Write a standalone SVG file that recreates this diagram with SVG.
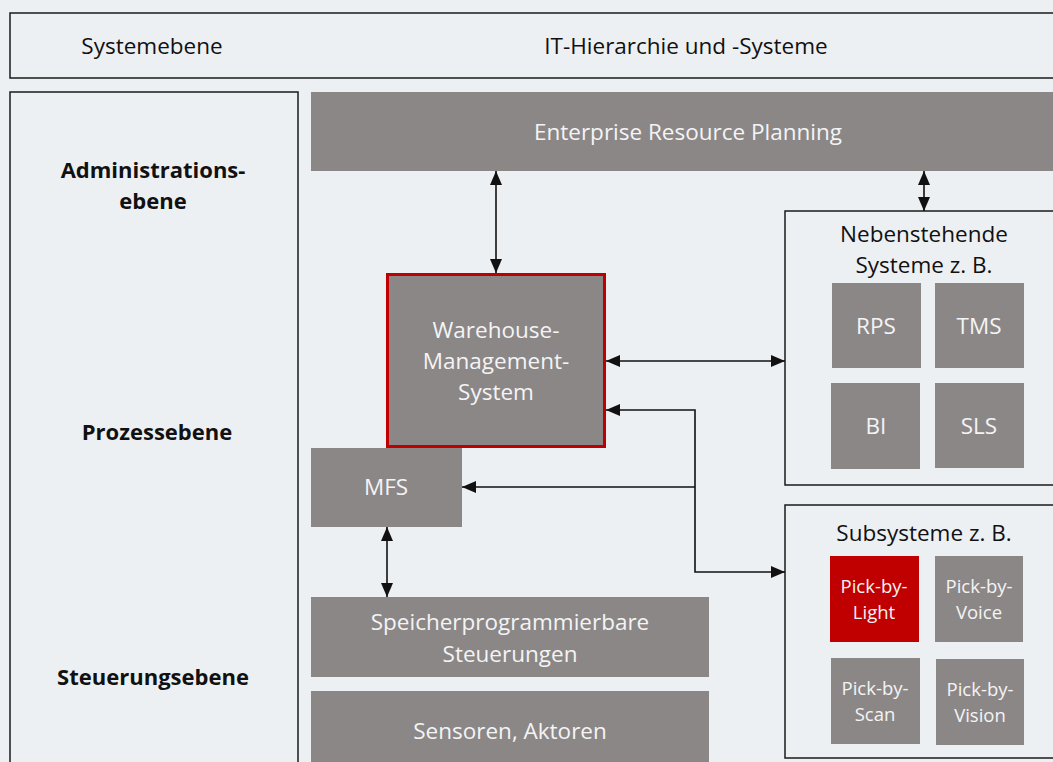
<svg xmlns="http://www.w3.org/2000/svg" width="1053" height="762" viewBox="0 0 1053 762">
<defs>
<style>
.bg{fill:#edf0f3}
.frame{fill:#edf0f3;stroke:#1a1a1a;stroke-width:1.5}
.box{fill:#8b8787}
.red{fill:#c00000}
.wt{font-family:"Open Sans","Noto Sans",sans-serif;font-size:22.5px;fill:#f4f4f4;text-anchor:middle}
.st{font-size:18.5px}
.bt{font-family:"Open Sans","Noto Sans",sans-serif;font-size:22.5px;fill:#111;text-anchor:middle}
.lb{font-family:"Open Sans","Noto Sans",sans-serif;font-size:22px;font-weight:bold;fill:#111;text-anchor:middle}
.con{fill:none;stroke:#111;stroke-width:1.6}
</style>
<marker id="ah" viewBox="0 0 14 12" refX="14" refY="6" markerWidth="14" markerHeight="12" markerUnits="userSpaceOnUse" orient="auto-start-reverse">
<path d="M0,0 L14,6 L0,12 Z" fill="#111"/>
</marker>
</defs>
<rect class="bg" x="0" y="0" width="1053" height="762"/>
<g id="header">
<rect class="frame" x="10" y="13" width="1050" height="65"/>
<text class="bt" x="152" y="54">Systemebene</text>
<text class="bt" x="686" y="54">IT-Hierarchie und -Systeme</text>
</g>
<g id="levels">
<rect class="frame" x="10" y="92" width="288" height="680"/>
<text class="lb" x="153" y="178">Administrations-</text>
<text class="lb" x="153" y="209">ebene</text>
<text class="lb" x="157" y="440">Prozessebene</text>
<text class="lb" x="153" y="685">Steuerungsebene</text>
</g>
<g id="erp">
<rect class="box" x="311" y="92" width="750" height="79"/>
<text class="wt" x="688" y="140">Enterprise Resource Planning</text>
</g>
<g id="wms">
<rect class="box" x="387.5" y="274.5" width="217" height="172" stroke="#c00000" stroke-width="3"/>
<text class="wt" x="496" y="338">Warehouse-</text>
<text class="wt" x="496" y="369">Management-</text>
<text class="wt" x="496" y="400">System</text>
</g>
<g id="mfs">
<rect class="box" x="311" y="448" width="151" height="79"/>
<text class="wt" x="386" y="495">MFS</text>
</g>
<g id="sps">
<rect class="box" x="311" y="597" width="398" height="80"/>
<text class="wt" x="510" y="630">Speicherprogrammierbare</text>
<text class="wt" x="510" y="662">Steuerungen</text>
</g>
<g id="sensoren">
<rect class="box" x="311" y="691" width="398" height="80"/>
<text class="wt" x="510" y="739">Sensoren, Aktoren</text>
</g>
<g id="nebenstehende">
<rect class="frame" x="785" y="211" width="280" height="274"/>
<text class="bt" x="924" y="242">Nebenstehende</text>
<text class="bt" x="924" y="273">Systeme z. B.</text>
<g id="rps"><rect class="box" x="832" y="283" width="89" height="85"/><text class="wt" x="876" y="334">RPS</text></g>
<g id="tms"><rect class="box" x="935" y="283" width="89" height="85"/><text class="wt" x="979" y="334">TMS</text></g>
<g id="bi"><rect class="box" x="831" y="383" width="89" height="86"/><text class="wt" x="876" y="434">BI</text></g>
<g id="sls"><rect class="box" x="935" y="383" width="89" height="85"/><text class="wt" x="979" y="434">SLS</text></g>
</g>
<g id="subsysteme">
<rect class="frame" x="785" y="505" width="280" height="253"/>
<text class="bt" x="924" y="541">Subsysteme z. B.</text>
<g id="pbl"><rect class="red" x="830" y="556" width="89" height="86"/><text class="wt st" x="874" y="593">Pick-by-</text><text class="wt st" x="874" y="619">Light</text></g>
<g id="pbvoice"><rect class="box" x="935" y="556" width="88" height="86"/><text class="wt st" x="979" y="593">Pick-by-</text><text class="wt st" x="979" y="619">Voice</text></g>
<g id="pbs"><rect class="box" x="831" y="658" width="89" height="86"/><text class="wt st" x="875" y="695">Pick-by-</text><text class="wt st" x="875" y="721">Scan</text></g>
<g id="pbvision"><rect class="box" x="936" y="659" width="88" height="86"/><text class="wt st" x="980" y="696">Pick-by-</text><text class="wt st" x="980" y="722">Vision</text></g>
</g>
<g id="connectors">
<line class="con" x1="496" y1="171" x2="496" y2="273" marker-start="url(#ah)" marker-end="url(#ah)"/>
<line class="con" x1="924" y1="171" x2="924" y2="211" marker-start="url(#ah)" marker-end="url(#ah)"/>
<line class="con" x1="606" y1="361" x2="785" y2="361" marker-start="url(#ah)" marker-end="url(#ah)"/>
<polyline class="con" points="606,410 695,410 695,572 785,572" marker-start="url(#ah)" marker-end="url(#ah)"/>
<line class="con" x1="695" y1="487" x2="462" y2="487" marker-end="url(#ah)"/>
<line class="con" x1="387" y1="527" x2="387" y2="597" marker-start="url(#ah)" marker-end="url(#ah)"/>
</g>
</svg>
